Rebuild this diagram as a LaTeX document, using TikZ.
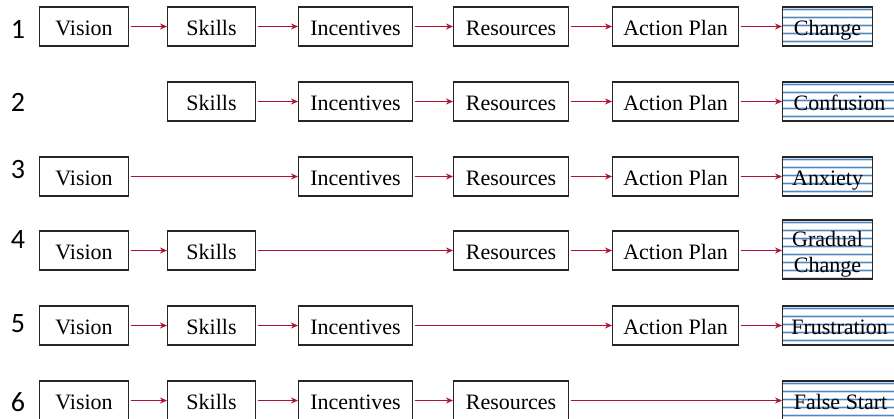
\documentclass[tikz,border=0pt]{standalone}
\usepackage{fontspec}
\setmainfont{Liberation Serif}
\newfontfamily\numfont{Carlito}
\usetikzlibrary{arrows.meta}
\definecolor{arrowred}{RGB}{176,18,48}
\definecolor{stripeblue}{RGB}{84,134,194}
\definecolor{stripelight}{RGB}{200,218,240}
\tikzset{
  box/.style={draw=black!85, line width=1.1pt, minimum height=39pt, inner sep=0pt,
    font=\fontsize{22}{26}\selectfont, anchor=west, fill=white, align=center,
    text height=20pt, text depth=3pt},
  resbox/.style={box, path picture={
      \foreach \k in {0,...,8} {
        \draw[stripelight, line width=3pt]
          ([yshift={-(2.5+8*\k)*1pt}]path picture bounding box.north west) --
          ([yshift={-(2.5+8*\k)*1pt}]path picture bounding box.north east);
        \draw[stripeblue, line width=1.3pt]
          ([yshift={-(2.5+8*\k)*1pt}]path picture bounding box.north west) --
          ([yshift={-(2.5+8*\k)*1pt}]path picture bounding box.north east);
      }}},
  num/.style={font=\numfont\fontsize{28}{30}\selectfont, inner sep=0pt},
  link/.style={draw=arrowred, line width=1.1pt, shorten <=1.5pt,
    -{Stealth[length=7pt,width=6pt]}}
}
\begin{document}
\begin{tikzpicture}[x=1pt,y=-1pt]
\useasboundingbox (0,0) rectangle (894,418);

% Row 1
\node[num] (n1) at (18,29) {1};
\node[box, minimum width=89pt] (v1) at (39,26.5) {Vision};
\node[box, minimum width=88pt] (s1) at (167,26.5) {Skills};
\node[box, minimum width=114pt] (i1) at (298,26.5) {Incentives};
\node[box, minimum width=115pt] (r1) at (453,26.5) {Resources};
\node[box, minimum width=126pt] (a1) at (612,26.5) {Action Plan};
\node[resbox, minimum width=90pt] (c1) at (782,26.5) {Change};
\draw[link] (v1) -- (s1);
\draw[link] (s1) -- (i1);
\draw[link] (i1) -- (r1);
\draw[link] (r1) -- (a1);
\draw[link] (a1) -- (c1);

% Row 2
\node[num] (n2) at (18,102.5) {2};
\node[box, minimum width=88pt] (s2) at (167,101.5) {Skills};
\node[box, minimum width=114pt] (i2) at (298,101.5) {Incentives};
\node[box, minimum width=115pt] (r2) at (453,101.5) {Resources};
\node[box, minimum width=126pt] (a2) at (612,101.5) {Action Plan};
\node[resbox, minimum width=114pt] (c2) at (782,101.5) {Confusion};
\draw[link] (s2) -- (i2);
\draw[link] (i2) -- (r2);
\draw[link] (r2) -- (a2);
\draw[link] (a2) -- (c2);

% Row 3
\node[num] (n3) at (18,170) {3};
\node[box, minimum width=89pt] (v3) at (39,176.5) {Vision};
\node[box, minimum width=114pt] (i3) at (298,176.5) {Incentives};
\node[box, minimum width=115pt] (r3) at (453,176.5) {Resources};
\node[box, minimum width=126pt] (a3) at (612,176.5) {Action Plan};
\node[resbox, minimum width=90pt] (c3) at (782,176.5) {Anxiety};
\draw[link] (v3) -- (i3);
\draw[link] (i3) -- (r3);
\draw[link] (r3) -- (a3);
\draw[link] (a3) -- (c3);

% Row 4
\node[num] (n4) at (18,240) {4};
\node[box, minimum width=89pt] (v4) at (39,250.5) {Vision};
\node[box, minimum width=88pt] (s4) at (167,250.5) {Skills};
\node[box, minimum width=115pt] (r4) at (453,250.5) {Resources};
\node[box, minimum width=126pt] (a4) at (612,250.5) {Action Plan};
\node[resbox, minimum width=90pt, minimum height=59pt, text height=48pt, text depth=3pt]
  (c4) at (782,249.5) {Gradual\\Change};
\draw[link] (v4) -- (s4);
\draw[link] (s4) -- (r4);
\draw[link] (r4) -- (a4);
\draw[link] (a4) -- (a4.east -| c4.west);

% Row 5
\node[num] (n5) at (18,323.5) {5};
\node[box, minimum width=89pt] (v5) at (39,325.5) {Vision};
\node[box, minimum width=88pt] (s5) at (167,325.5) {Skills};
\node[box, minimum width=114pt] (i5) at (298,325.5) {Incentives};
\node[box, minimum width=126pt] (a5) at (612,325.5) {Action Plan};
\node[resbox, minimum width=114pt] (c5) at (782,325.5) {Frustration};
\draw[link] (v5) -- (s5);
\draw[link] (s5) -- (i5);
\draw[link] (i5) -- (a5);
\draw[link] (a5) -- (c5);

% Row 6
\node[num] (n6) at (18,402) {6};
\node[box, minimum width=89pt] (v6) at (39,400.5) {Vision};
\node[box, minimum width=88pt] (s6) at (167,400.5) {Skills};
\node[box, minimum width=114pt] (i6) at (298,400.5) {Incentives};
\node[box, minimum width=115pt] (r6) at (453,400.5) {Resources};
\node[resbox, minimum width=116pt] (c6) at (782,400.5) {False Start};
\draw[link] (v6) -- (s6);
\draw[link] (s6) -- (i6);
\draw[link] (i6) -- (r6);
\draw[link] (r6) -- (c6);
\end{tikzpicture}
\end{document}
